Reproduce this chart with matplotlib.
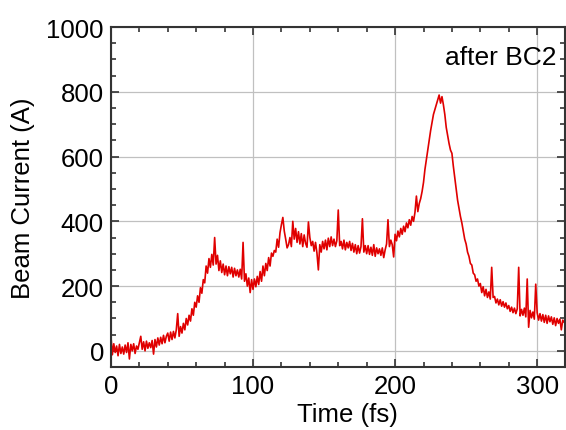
import numpy as np
import matplotlib
matplotlib.use("Agg")
import matplotlib.pyplot as plt
from matplotlib.ticker import MultipleLocator

plt.rcParams['font.family'] = ['Liberation Sans', 'DejaVu Sans']

# tiempo en fs (paso de 1 fs) y corriente, en bloques de 10
tiempo = np.arange(0, 321, 1)
corriente = [
    45, -12, 22, -5, 15, -15, 20, -8, 12, -10,
    18, -5, 25, -25, 20, 0, 22, -8, 15, 5,
    25, 45, 5, 28, 0, 30, 8, 25, 10, 32,
    -10, 35, 12, 40, 18, 42, 22, 48, 25, 45,
    55, 30, 58, 35, 60, 40, 65, 115, 45, 75,
    55, 85, 65, 100, 80, 110, 92, 130, 110, 150,
    135, 170, 150, 195, 178, 220, 210, 262, 240, 285,
    258, 298, 265, 350, 268, 295, 248, 278, 242, 268,
    235, 262, 232, 260, 238, 258, 228, 255, 232, 250,
    228, 252, 222, 335, 215, 238, 200, 225, 180, 220,
    190, 222, 198, 230, 205, 245, 215, 262, 232, 270,
    248, 288, 262, 302, 292, 310, 305, 345, 320, 365,
    390, 412, 370, 345, 318, 328, 350, 322, 400, 345,
    378, 335, 368, 330, 362, 322, 358, 332, 320, 398,
    350, 325, 338, 308, 335, 302, 250, 328, 305, 338,
    315, 342, 312, 348, 322, 352, 325, 345, 322, 340,
    435, 325, 338, 315, 342, 312, 335, 318, 338, 310,
    332, 305, 328, 300, 325, 302, 322, 408, 305, 325,
    300, 325, 298, 320, 295, 328, 292, 318, 300, 315,
    295, 318, 288, 312, 330, 405, 322, 342, 328, 290,
    360, 340, 370, 352, 378, 360, 385, 368, 395, 380,
    405, 388, 415, 400, 428, 478, 430, 455, 470, 492,
    520, 560, 590, 620, 650, 680, 705, 730, 745, 760,
    775, 790, 765, 785, 760, 730, 690, 665, 640, 620,
    610, 570, 535, 500, 465, 440, 415, 395, 370, 345,
    330, 305, 292, 270, 265, 240, 235, 215, 222, 200,
    208, 180, 198, 170, 190, 165, 182, 160, 258, 165,
    168, 148, 160, 142, 158, 138, 152, 135, 148, 130,
    140, 122, 135, 118, 132, 115, 130, 258, 108, 128,
    110, 132, 105, 222, 73, 125, 102, 120, 98, 206,
    118, 95, 115, 92, 112, 88, 110, 85, 108, 90,
    105, 82, 102, 78, 100, 85, 98, 65, 95, 88,
    92,
]

fig = plt.figure(figsize=(5.66, 4.31), dpi=100)
ax = fig.add_axes([0.196, 0.146, 0.802, 0.789])

ax.plot(tiempo, corriente, color='#e00000', lw=1.2)

ax.set_xlim(0, 319.5)
ax.set_ylim(-50, 1000)
ax.xaxis.set_major_locator(MultipleLocator(100))
ax.xaxis.set_minor_locator(MultipleLocator(20))
ax.yaxis.set_major_locator(MultipleLocator(200))
ax.yaxis.set_minor_locator(MultipleLocator(50))
ax.tick_params(which='both', direction='in', top=True, right=True,
               labelsize=18.5, width=1.2, color='#333333')
ax.tick_params(which='major', length=6, pad=5)
ax.tick_params(which='minor', length=3.5)
ax.grid(which='major', color='#c0c0c0', lw=0.9)
for s in ax.spines.values():
    s.set_linewidth(1.5)
    s.set_color('#333333')

ax.set_xlabel('Time (fs)', fontsize=18.5)
ax.set_ylabel('Beam Current (A)', fontsize=18.5)
ax.xaxis.set_label_coords(0.522, -0.104, transform=ax.transAxes)
ax.yaxis.set_label_coords(-0.167, 0.5, transform=ax.transAxes)
ax.text(0.982, 0.912, 'after BC2', transform=ax.transAxes, ha='right',
        va='center', fontsize=19)

fig.savefig('out.png', dpi=100)
